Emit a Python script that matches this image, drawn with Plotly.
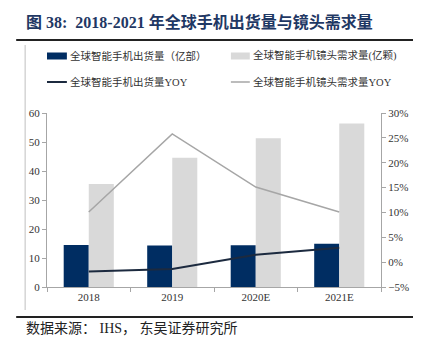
import plotly.graph_objects as go

categories = ["2018", "2019", "2020E", "2021E"]
phone_shipments = [14.5, 14.3, 14.4, 14.9]        # 亿部
lens_demand = [35.5, 44.6, 51.3, 56.4]            # 亿颗
phone_yoy = [-1.9, -1.4, 1.5, 2.9]                # %
lens_yoy = [10.1, 25.8, 15.1, 10.1]               # %

names = ["全球智能手机出货量（亿部）", "全球智能手机镜头需求量(亿颗)",
         "全球智能手机出货量YOY", "全球智能手机镜头需求量YOY"]

NAVY = "#002D62"
LGRAY = "#D9D9D9"
DLINE = "#1C2A3F"
GLINE = "#A6A6A6"

# page offset (browser body margin)
OX, OY = 8, 8
WIN_W, WIN_H = 421, 359
W, H = WIN_W - OX, WIN_H - OY
# plot area in window pixels
PX0, PX1, PY0, PY1 = 47, 383, 113, 287
L, R, T, B = PX0 - OX, W - (PX1 - OX), PY0 - OY, H - (PY1 - OY)
PW, PH = PX1 - PX0, PY1 - PY0


def px(x):
    return (x - PX0) / PW


def py(y):
    return (PY1 - y) / PH


fig = go.Figure()
fig.add_bar(x=categories, y=phone_shipments, name=names[0], marker_color=NAVY,
            marker_line_width=0, showlegend=False)
fig.add_bar(x=categories, y=lens_demand, name=names[1], marker_color=LGRAY,
            marker_line_width=0, showlegend=False)
fig.add_scatter(x=categories, y=phone_yoy, name=names[2], yaxis="y2", mode="lines",
                line=dict(color=DLINE, width=2), showlegend=False)
fig.add_scatter(x=categories, y=lens_yoy, name=names[3], yaxis="y2", mode="lines",
                line=dict(color=GLINE, width=1.5), showlegend=False)

tickfont = dict(family="Liberation Serif, Times New Roman, serif", size=11, color="#333333")
axcol = "#A6A6A6"

fig.update_layout(
    width=W, height=H,
    margin=dict(l=L, r=R, t=T, b=B),
    paper_bgcolor="white", plot_bgcolor="white",
    barmode="group", bargap=0.4, bargroupgap=0,
    font=dict(family="Liberation Serif, Noto Sans CJK SC", size=11, color="#333333"),
    xaxis=dict(showgrid=False, showline=True, linecolor=axcol, linewidth=1,
               ticks="outside", ticklen=4, tickcolor=axcol, tickson="boundaries",
               tickfont=tickfont),
    yaxis=dict(range=[0, 60], dtick=10, showgrid=False, zeroline=False,
               showline=True, linecolor=axcol, ticks="outside", ticklen=4,
               tickcolor=axcol, tickfont=tickfont),
    yaxis2=dict(range=[-5, 30], dtick=5, overlaying="y", side="right",
                showgrid=False, zeroline=False, showline=True, linecolor=axcol,
                ticks="outside", ticklen=4, tickcolor=axcol, ticksuffix="%",
                tickfont=tickfont),
    showlegend=False,
)

shapes = []
annotations = []

# title & frame lines
shapes.append(dict(type="line", xref="paper", yref="paper", x0=px(16), x1=px(425),
                   y0=py(40), y1=py(40), line=dict(color="#222222", width=2)))
shapes.append(dict(type="line", xref="paper", yref="paper", x0=px(16), x1=px(425),
                   y0=py(317), y1=py(317), line=dict(color="#222222", width=2)))
shapes.append(dict(type="line", xref="paper", yref="paper", x0=px(25), x1=px(25),
                   y0=py(45), y1=py(310), line=dict(color="#BFBFBF", width=1)))

annotations.append(dict(text="图 38:  2018-2021 年全球手机出货量与镜头需求量",
                        xref="paper", yref="paper", x=px(24), y=py(22),
                        xanchor="left", yanchor="middle", showarrow=False,
                        font=dict(family="Liberation Serif, Noto Sans CJK SC", size=16,
                                  color="#1F3864", weight="bold")))
annotations.append(dict(text="数据来源： IHS， 东吴证券研究所",
                        xref="paper", yref="paper", x=px(24), y=py(328),
                        xanchor="left", yanchor="middle", showarrow=False,
                        font=dict(family="Liberation Serif, Noto Sans CJK SC", size=14,
                                  color="#222222")))

# custom legend
legend_items = [
    ("rect", NAVY, 47, 67, 56, names[0]),
    ("rect", LGRAY, 232, 251, 56, names[1]),
    ("line", DLINE, 47, 67, 82, names[2]),
    ("line", GLINE, 232, 251, 82, names[3]),
]
for kind, col, x0, x1, yc, label in legend_items:
    if kind == "rect":
        shapes.append(dict(type="rect", xref="paper", yref="paper", x0=px(x0), x1=px(x1),
                           y0=py(yc + 3.5), y1=py(yc - 3.5), fillcolor=col, line_width=0))
    else:
        shapes.append(dict(type="line", xref="paper", yref="paper", x0=px(x0), x1=px(x1),
                           y0=py(yc), y1=py(yc),
                           line=dict(color=col, width=2 if col == DLINE else 1.5)))
    annotations.append(dict(text=label, xref="paper", yref="paper", x=px(x1 + 1), y=py(yc),
                            xanchor="left", yanchor="middle", showarrow=False,
                            font=dict(family="Liberation Serif, Noto Sans CJK SC", size=10.5,
                                      color="#333333")))

fig.update_layout(shapes=shapes, annotations=annotations)
fig.write_html("out.html")
